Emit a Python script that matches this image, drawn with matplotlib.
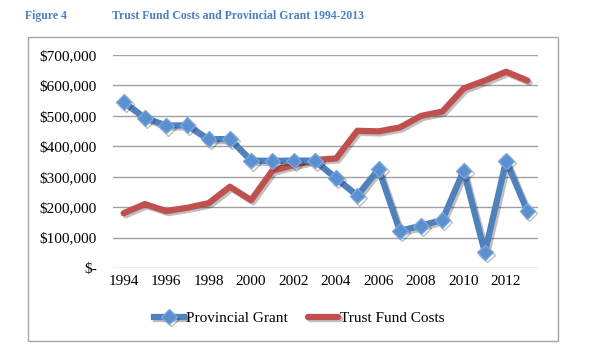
import numpy as np
import matplotlib.pyplot as plt
import matplotlib.patheffects as pe
from matplotlib.patches import Rectangle
from matplotlib.ticker import FuncFormatter

years = list(range(1994, 2014))
provincial_grant = [545000, 494000, 468000, 469000, 423000, 424000, 353000, 352000, 353000, 353000,
                    295000, 238000, 325000, 122000, 139000, 158000, 320000, 51000, 352000, 187000]
trust_fund_costs = [180000, 210000, 187000, 198000, 213000, 267000, 223000, 320000, 338000, 355000,
                    360000, 451000, 449000, 462000, 500000, 514000, 590000, 616000, 645000, 616000]

plt.rcParams['font.family'] = ['Liberation Serif', 'DejaVu Serif']

blue = '#4F81BD'
red = '#C0504D'

fig = plt.figure(figsize=(6, 3.54), dpi=100)
W, H = 600, 354

# outer chart frame
fig.patches.append(Rectangle((28 / W, 1 - 341 / H), (558 - 28) / W, (341 - 37) / H,
                             transform=fig.transFigure, fill=False, edgecolor='#a6a6a6', lw=1))

fig.text(25 / W, 1 - 16 / H, 'Figure 4', color='#4a7fc1', fontsize=8.5, fontweight='bold', va='center')
fig.text(112 / W, 1 - 16 / H, 'Trust Fund Costs and Provincial Grant 1994-2013', color='#4a7fc1',
         fontsize=8.5, fontweight='bold', va='center')

ax = fig.add_axes([113 / W, 1 - 268 / H, (538 - 113) / W, 213 / H])
shadow = [pe.SimpleLineShadow(offset=(1.5, -1.5), alpha=0.25, shadow_color='black'), pe.Normal()]
ax.plot(years, provincial_grant, color=blue, lw=4.5, marker='D', markersize=8,
        markerfacecolor='#5a8fd0', markeredgecolor='#7aa7dc', label='Provincial Grant',
        path_effects=shadow, zorder=3)
ax.plot(years, trust_fund_costs, color=red, lw=4.5, solid_capstyle='round', label='Trust Fund Costs',
        path_effects=shadow, zorder=2)

ax.set_xlim(1993.5, 2013.5)
ax.set_ylim(0, 700000)
ax.set_yticks(np.arange(0, 700001, 100000))
ax.set_xticks(range(1994, 2013, 2))
ax.yaxis.set_major_formatter(FuncFormatter(lambda v, p: '$-' if v == 0 else '${:,.0f}'.format(v)))
ax.grid(axis='y', color='#a0a0a0', lw=1)
ax.set_axisbelow(True)
for s in ax.spines.values():
    s.set_visible(False)
ax.tick_params(length=0, labelsize=11, colors='black')
ax.tick_params(axis='y', pad=11.5)
ax.tick_params(axis='x', pad=5)

fig.legend(loc='center', bbox_to_anchor=(299 / W, 1 - 318 / H), ncol=2, frameon=False,
           fontsize=11, handlelength=2.0, columnspacing=1.3, handletextpad=0.1)

fig.savefig('out.png', dpi=100)
